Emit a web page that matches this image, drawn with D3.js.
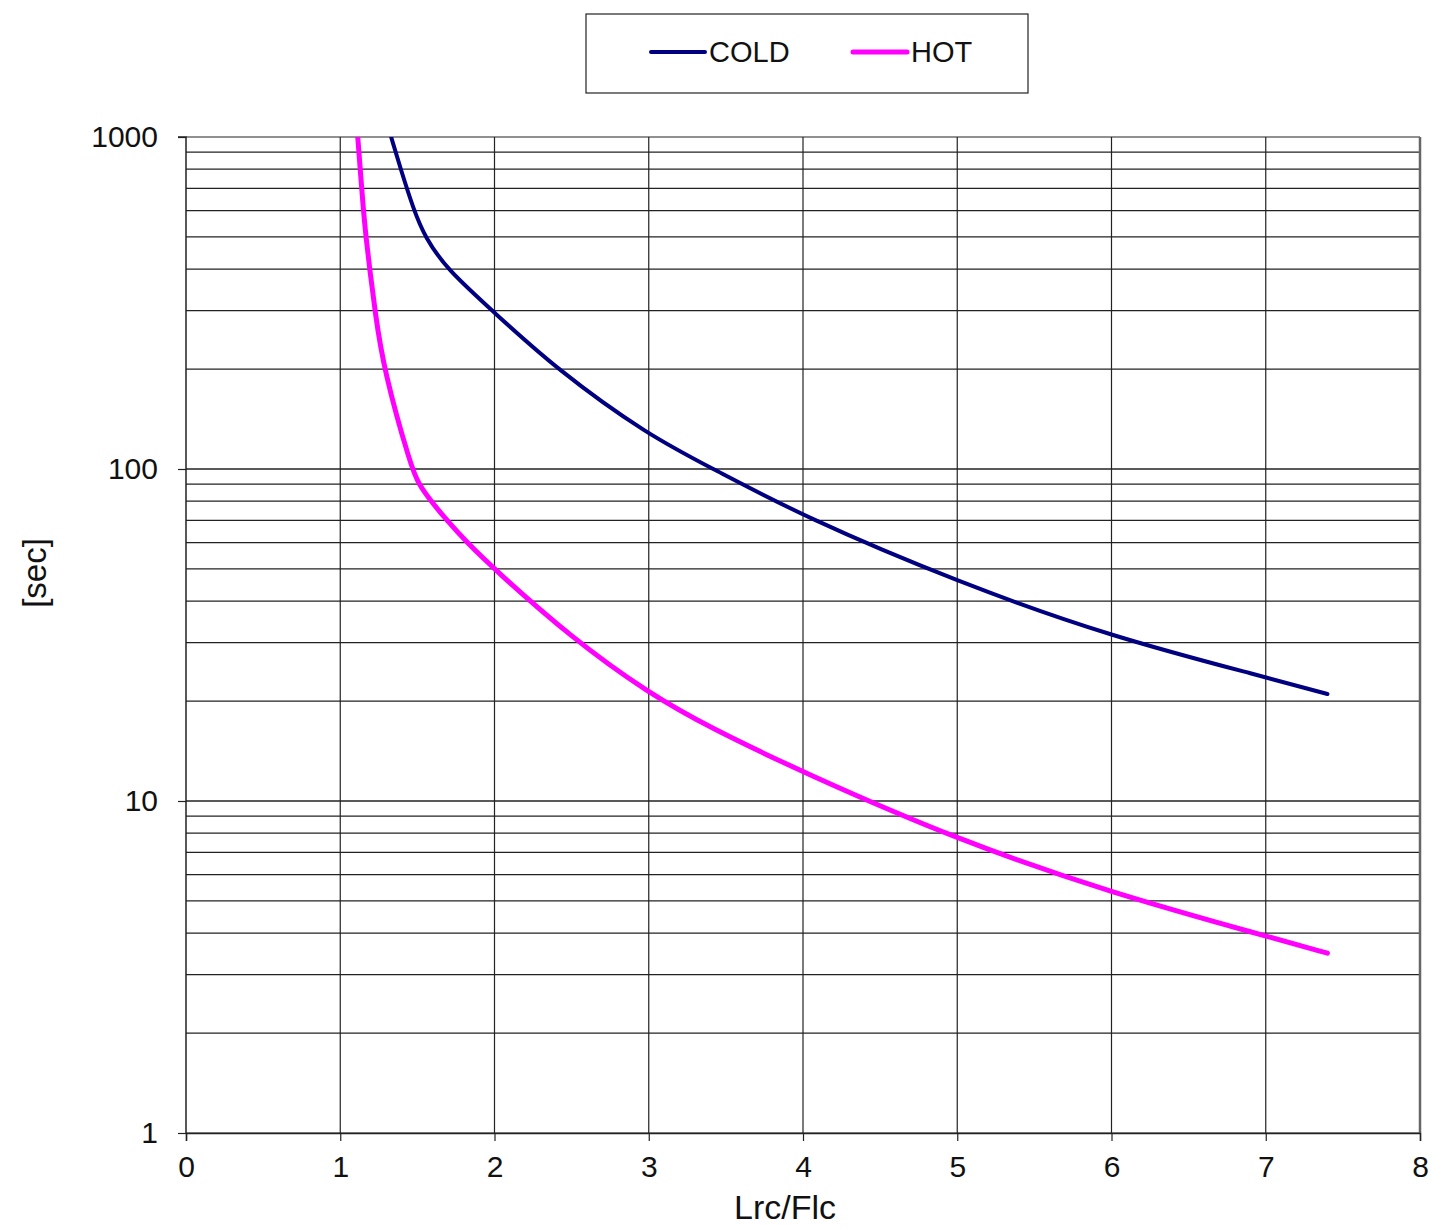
<!DOCTYPE html>
<html>
<head>
<meta charset="utf-8">
<script src="https://cdn.jsdelivr.net/npm/d3@7"></script>
<style>
  body { margin: 0; background: #fff; }
  text { font-family: "Liberation Sans", Arial, sans-serif; }
</style>
</head>
<body>
<svg width="1435" height="1228"></svg>
<script>
// values (x = Lrc/Flc, y = seconds)
const coldX = [1.33, 1.392, 1.478, 1.549, 1.69, 1.985, 2.40, 3.0, 3.42, 4.0, 5.0, 6.0, 7.0, 7.4];
const coldY = [1000, 800, 600, 500, 400, 300, 200, 126, 100, 72, 45.7, 31.2, 23.6, 21.0];
const hotX = [1.1135, 1.15, 1.167, 1.191, 1.225, 1.28, 1.463, 1.51, 1.588, 1.692, 1.822, 1.997, 2.5, 3.0, 3.4, 4.0, 5.0, 6.0, 7.0, 7.4];
const hotY = [1000, 600, 500, 400, 300, 200, 100, 90, 80, 70, 60, 50, 31, 21.1, 16.6, 12.2, 7.64, 5.28, 3.92, 3.48];
const xTicks = [0, 1, 2, 3, 4, 5, 6, 7, 8];
const yTicks = [1, 10, 100, 1000];
const seriesNames = ["COLD", "HOT"];
const seriesColors = ["#000080", "#ff00ff"];

const svg = d3.select("svg");
const plotLeft = 186, plotRight = 1420, plotTop = 137, plotBottom = 1133;

const x = d3.scaleLinear().domain([0, 8]).range([plotLeft, plotRight]);
const y = d3.scaleLog().domain([1, 1000]).range([plotBottom, plotTop]);

// minor + major horizontal grid lines
const yGrid = [];
for (let d = 1; d < 1000; d *= 10) {
    for (let k = 1; k <= 10; k++) yGrid.push(d * k);
}
svg.append("g")
    .selectAll("line")
    .data(yGrid)
    .enter()
    .append("line")
    .attr("x1", plotLeft)
    .attr("x2", plotRight)
    .attr("y1", d => y(d))
    .attr("y2", d => y(d))
    .attr("stroke", "#222")
    .attr("stroke-width", 1.2);

svg.append("g")
    .selectAll("line")
    .data(xTicks.slice(1, -1))
    .enter()
    .append("line")
    .attr("x1", d => x(d))
    .attr("x2", d => x(d))
    .attr("y1", plotTop)
    .attr("y2", plotBottom)
    .attr("stroke", "#222")
    .attr("stroke-width", 1.2);

// right border
svg.append("line")
    .attr("x1", plotRight).attr("x2", plotRight)
    .attr("y1", plotTop).attr("y2", plotBottom)
    .attr("stroke", "#666")
    .attr("stroke-width", 2.5);

// axes
const xAxis = d3.axisBottom(x).tickValues(xTicks).tickSize(8).tickPadding(15);
const yAxis = d3.axisLeft(y).tickValues(yTicks).tickFormat(d3.format("d")).tickSize(8).tickPadding(20);

const gx = svg.append("g").attr("transform", `translate(0,${plotBottom})`).call(xAxis);
const gy = svg.append("g").attr("transform", `translate(${plotLeft},0)`).call(yAxis);
[gx, gy].forEach(g => {
    g.select(".domain").attr("stroke", "#222").attr("stroke-width", 1.5);
    g.selectAll(".tick line").attr("stroke", "#222").attr("stroke-width", 1.2);
    g.selectAll("text").attr("font-size", 30).attr("fill", "#111")
        .style("font-family", "'Liberation Sans', Arial, sans-serif");
});
gy.select(".domain").attr("d", `M-8,${plotTop}H0V${plotBottom}`);

// curves
svg.append("clipPath").attr("id", "plot")
    .append("rect").attr("x", plotLeft).attr("y", plotTop)
    .attr("width", plotRight - plotLeft).attr("height", plotBottom - plotTop);

const line = d3.line()
    .x(d => x(d[0]))
    .y(d => y(d[1]))
    .curve(d3.curveBasis);

const series = [
    d3.zip(coldX, coldY),
    d3.zip(hotX, hotY)
];
const widths = [4, 5];

svg.append("g")
    .attr("clip-path", "url(#plot)")
    .selectAll("path")
    .data(series)
    .enter()
    .append("path")
    .attr("d", line)
    .attr("fill", "none")
    .attr("stroke", (d, i) => seriesColors[i])
    .attr("stroke-width", (d, i) => widths[i])
    .attr("stroke-linecap", "round");

// axis titles
svg.append("text")
    .attr("x", 785)
    .attr("y", 1219)
    .attr("text-anchor", "middle")
    .attr("font-size", 34)
    .attr("fill", "#111")
    .text("Lrc/Flc");

svg.append("text")
    .attr("transform", "translate(46,573) rotate(-90)")
    .attr("text-anchor", "middle")
    .attr("font-size", 33)
    .attr("fill", "#111")
    .text("[sec]");

// legend
const legend = svg.append("g");
legend.append("rect")
    .attr("x", 586).attr("y", 14)
    .attr("width", 442).attr("height", 79)
    .attr("fill", "#fff")
    .attr("stroke", "#222")
    .attr("stroke-width", 1.2);

const legendX = [651, 853];
seriesNames.forEach((name, i) => {
    legend.append("line")
        .attr("x1", legendX[i]).attr("x2", legendX[i] + 54)
        .attr("y1", 52).attr("y2", 52)
        .attr("stroke", seriesColors[i])
        .attr("stroke-width", widths[i])
        .attr("stroke-linecap", "round");
    legend.append("text")
        .attr("x", legendX[i] + 58)
        .attr("y", 62)
        .attr("font-size", 29)
        .attr("fill", "#111")
        .text(name);
});
</script>
</body>
</html>
